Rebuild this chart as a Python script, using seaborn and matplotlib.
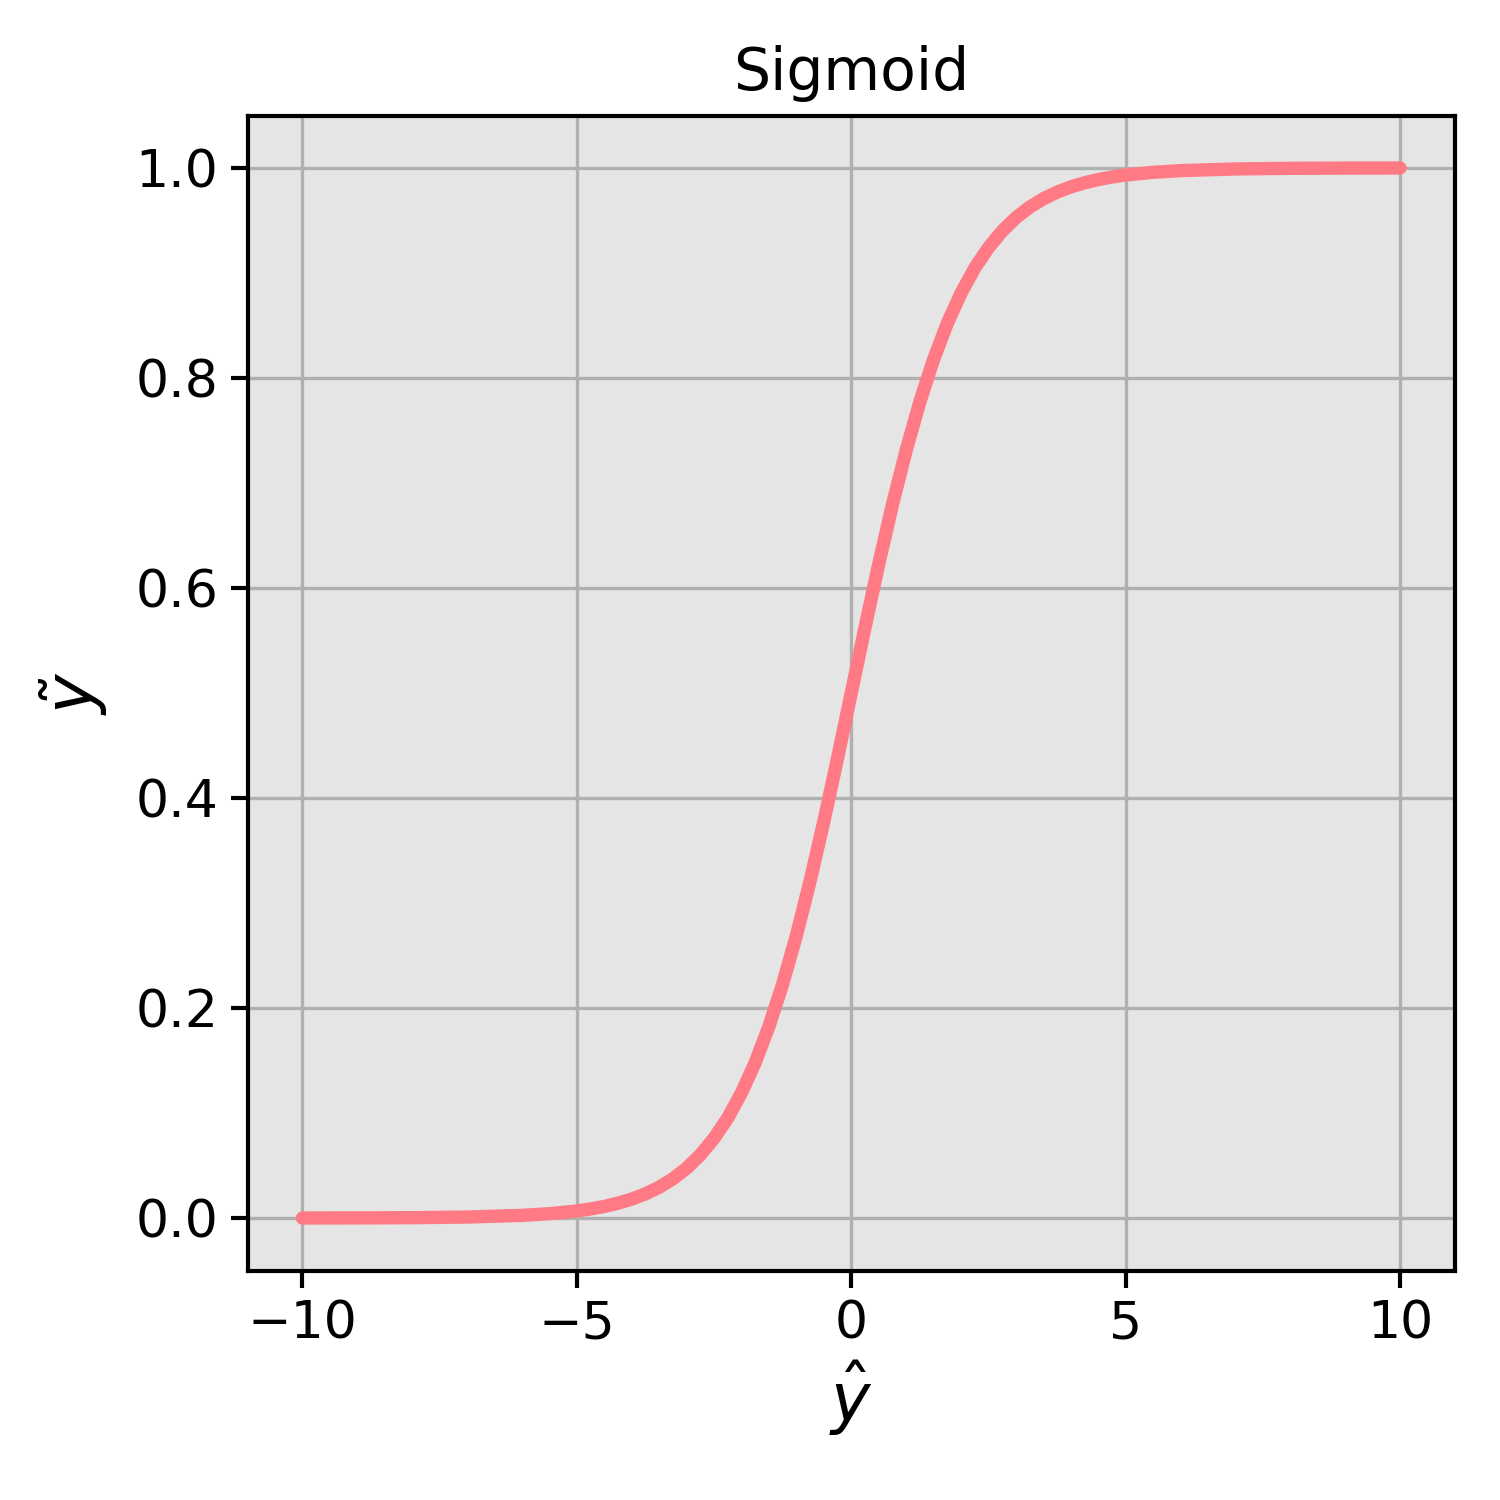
import matplotlib
matplotlib.use("Agg")
import matplotlib.pyplot as plt
import seaborn as sns
import pandas as pd

# values
x_vals = [-10.0, -9.0, -8.0, -7.0, -6.0, -5.5,
          -5.0, -4.75, -4.5, -4.25, -4.0, -3.75, -3.5, -3.25, -3.0, -2.75,
          -2.5, -2.25, -2.0, -1.75, -1.5, -1.25, -1.0, -0.75, -0.5, -0.25,
          0.0, 0.25, 0.5, 0.75, 1.0, 1.25, 1.5, 1.75, 2.0, 2.25,
          2.5, 2.75, 3.0, 3.25, 3.5, 3.75, 4.0, 4.25, 4.5, 4.75,
          5.0, 5.5, 6.0, 7.0, 8.0, 9.0, 10.0]
y_vals = [0.0000, 0.0001, 0.0003, 0.0009, 0.0025, 0.0041,
          0.0067, 0.0086, 0.0110, 0.0141, 0.0180, 0.0230, 0.0293, 0.0373, 0.0474, 0.0601,
          0.0759, 0.0953, 0.1192, 0.1480, 0.1824, 0.2227, 0.2689, 0.3208, 0.3775, 0.4378,
          0.5000, 0.5622, 0.6225, 0.6792, 0.7311, 0.7773, 0.8176, 0.8520, 0.8808, 0.9047,
          0.9241, 0.9399, 0.9526, 0.9627, 0.9707, 0.9770, 0.9820, 0.9859, 0.9890, 0.9914,
          0.9933, 0.9959, 0.9975, 0.9991, 0.9997, 0.9999, 1.0000]

title = "Sigmoid"
xlabel = r"$\hat{y}$"
ylabel = r"$\tilde{y}$"

df = pd.DataFrame({"x": x_vals, "y": y_vals})

sns.set_theme(style="darkgrid")
plt.rcParams["font.family"] = ["DejaVu Sans"]

fig = plt.figure(figsize=(5, 5), dpi=300)
ax = fig.add_axes([0.165, 0.153, 0.805, 0.77])
ax.set_facecolor("#e5e5e5")
for s in ax.spines.values():
    s.set_visible(True)
    s.set_color("black")
    s.set_linewidth(1.0)
ax.grid(True, color="#b0b0b0", linewidth=0.8)
ax.set_axisbelow(True)

sns.lineplot(data=df, x="x", y="y", ax=ax, color="#ff7a84", linewidth=3.2,
             solid_capstyle="round", solid_joinstyle="round")

ax.set_xlim(-11, 11)
ax.set_ylim(-0.05, 1.05)
ax.set_xticks([-10, -5, 0, 5, 10])
ax.set_yticks([0.0, 0.2, 0.4, 0.6, 0.8, 1.0])
ax.set_xticklabels(["\u221210", "\u22125", "0", "5", "10"])
ax.set_yticklabels(["0.0", "0.2", "0.4", "0.6", "0.8", "1.0"])
ax.tick_params(axis="both", labelsize=12.5, colors="black", length=4, width=1,
               direction="out", bottom=True, left=True, pad=3)
ax.set_title(title, fontsize=14, color="black", pad=6)
ax.set_xlabel(xlabel, fontsize=16, color="black", labelpad=2)
ax.set_ylabel(ylabel, fontsize=16, color="black", labelpad=6)

fig.savefig("out.png", dpi=300)
